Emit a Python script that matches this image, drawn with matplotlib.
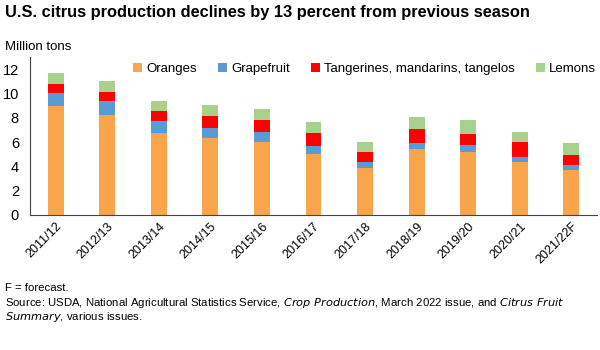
import matplotlib
matplotlib.use('Agg')
from matplotlib import pyplot as plt
import numpy as np

plt.rcParams['font.family'] = ['Liberation Sans', 'DejaVu Sans']

seasons = ['2011/12', '2012/13', '2013/14', '2014/15', '2015/16', '2016/17',
           '2017/18', '2018/19', '2019/20', '2020/21', '2021/22F']
oranges = [8.98, 8.24, 6.73, 6.32, 6.04, 5.03, 3.85, 5.41, 5.22, 4.37, 3.74]
grapefruit = [1.10, 1.18, 1.04, 0.88, 0.80, 0.68, 0.49, 0.52, 0.55, 0.41, 0.35]
tangerines = [0.72, 0.74, 0.77, 0.93, 0.96, 1.05, 0.82, 1.16, 0.93, 1.21, 0.88]
lemons = [0.88, 0.91, 0.86, 0.91, 0.91, 0.90, 0.88, 0.96, 1.13, 0.88, 0.99]

series = [('Oranges', oranges, '#F9A54B'),
          ('Grapefruit', grapefruit, '#5B9BD5'),
          ('Tangerines, mandarins, tangelos', tangerines, '#FF0000'),
          ('Lemons', lemons, '#A9D18E')]

fig = plt.figure(figsize=(6, 3.5), dpi=100)
ax = fig.add_axes([0.05, 0.386, 0.945, 0.45])

x = np.arange(len(seasons))
bottom = np.zeros(len(seasons))
for name, vals, col in series:
    ax.bar(x, vals, width=0.31, bottom=bottom, color=col, label=name)
    bottom += np.array(vals)

ax.set_xlim(-0.5, len(seasons) - 0.5)
ax.set_ylim(0, 13)
ax.set_yticks(range(0, 13, 2))
ax.set_xticks(x)
ax.set_xticklabels(seasons, rotation=45, ha='right', rotation_mode='anchor', fontsize=9)
ax.tick_params(axis='y', length=0, labelsize=10.5, pad=8)
ax.tick_params(axis='x', length=0, pad=4)
for s in ['top', 'right']:
    ax.spines[s].set_visible(False)
for s in ['left', 'bottom']:
    ax.spines[s].set_color('#444444')

ax.legend(loc='upper center', bbox_to_anchor=(0.59, 1.04), ncol=4, frameon=False,
          fontsize=9.5, handlelength=0.7, handleheight=0.7, handletextpad=0.3,
          columnspacing=1.6)

fig.text(0.008, 0.965, 'U.S. citrus production declines by 13 percent from previous season',
         fontsize=11.8, fontweight='bold', va='center')
fig.text(0.008, 0.865, 'Million tons', fontsize=9.5, va='center')

fig.text(0.008, 0.178, 'F = forecast.', fontsize=8.2, va='center')
fig.text(0.008, 0.135, 'Source: USDA, National Agricultural Statistics Service, $\\it{Crop\\ Production}$, '
         'March 2022 issue, and $\\it{Citrus\\ Fruit}$', fontsize=8.2, va='center')
fig.text(0.008, 0.095, '$\\it{Summary}$, various issues.', fontsize=8.2, va='center')

fig.savefig('out.png', dpi=100)
